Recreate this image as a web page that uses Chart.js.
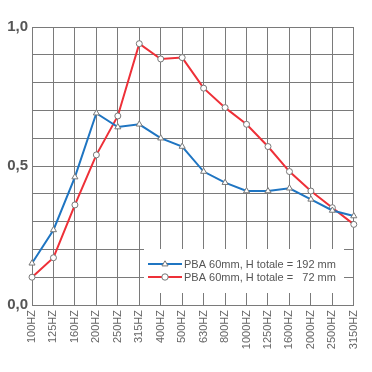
<!DOCTYPE html>
<html>
<head>
<meta charset="utf-8">
<script src="https://cdn.jsdelivr.net/npm/chart.js@4.4.1/dist/chart.umd.min.js"></script>
<style>
  html, body { margin: 0; padding: 0; background: #fff; }
  canvas { display: block; }
</style>
</head>
<body>
<canvas id="absChart" width="372" height="372"></canvas>
<script>
// Fréquences (axe X)
const frequences = ["100HZ", "125HZ", "160HZ", "200HZ", "250HZ", "315HZ", "400HZ", "500HZ",
  "630HZ", "800HZ", "1000HZ", "1250HZ", "1600HZ", "2000HZ", "2500HZ", "3150HZ"];

// Noms des séries
const nomSerie192 = "PBA 60mm, H totale = 192 mm";
const nomSerie72 = "PBA 60mm, H totale =   72 mm";

// Coefficients d'absorption
const abs192 = [0.15, 0.27, 0.46, 0.69, 0.64, 0.65, 0.60, 0.57, 0.48, 0.44, 0.41, 0.41, 0.42, 0.38, 0.34, 0.32];
const abs72 = [0.10, 0.17, 0.36, 0.54, 0.68, 0.94, 0.885, 0.89, 0.78, 0.71, 0.65, 0.57, 0.48, 0.41, 0.35, 0.29];

// Graduations affichées sur l'axe Y
const yTicks = [0, 0.5, 1.0];
const yTickTexts = ["0,0", "0,5", "1,0"];

const fontName = "'Liberation Sans', Arial, Helvetica, sans-serif";

function drawMarker(ctx, style, x, y, r) {
  ctx.beginPath();
  if (style === "triangle") {
    ctx.moveTo(x, y - r);
    ctx.lineTo(x + r * 0.95, y + r * 0.6);
    ctx.lineTo(x - r * 0.95, y + r * 0.6);
    ctx.closePath();
  } else {
    ctx.arc(x, y, r, 0, Math.PI * 2);
  }
  ctx.fill();
  ctx.stroke();
}

// Légende dans un cadre blanc, posée dans la zone du graphique
const legendBox = {
  id: "legendBox",
  afterDatasetsDraw(chart) {
    const ctx = chart.ctx;
    const area = chart.chartArea;
    const x0 = area.left + 112;
    const y0 = area.bottom - 56;
    ctx.save();
    ctx.fillStyle = "#fff";
    ctx.fillRect(x0, y0, 200, 44);
    chart.data.datasets.forEach((ds, i) => {
      const y = y0 + 15 + i * 13;
      ctx.strokeStyle = ds.borderColor;
      ctx.lineWidth = 2;
      ctx.beginPath();
      ctx.moveTo(x0 + 4, y);
      ctx.lineTo(x0 + 38, y);
      ctx.stroke();
      ctx.fillStyle = "#fff";
      ctx.strokeStyle = ds.pointBorderColor;
      ctx.lineWidth = 1;
      drawMarker(ctx, ds.pointStyle, x0 + 21, y, 3.2);
      ctx.fillStyle = "#555";
      ctx.font = "11px " + fontName;
      ctx.textBaseline = "middle";
      ctx.textAlign = "left";
      ctx.fillText(ds.label, x0 + 40, y + 0.5);
    });
    ctx.restore();
  }
};

new Chart(document.getElementById("absChart"), {
  type: "line",
  data: {
    labels: frequences,
    datasets: [{
      label: nomSerie192,
      data: abs192,
      borderColor: "#1f75c2",
      borderWidth: 2,
      pointStyle: "triangle",
      pointRadius: 3.5,
      pointBackgroundColor: "#fff",
      pointBorderColor: "#777",
      pointBorderWidth: 1,
      tension: 0
    }, {
      label: nomSerie72,
      data: abs72,
      borderColor: "#ee3038",
      borderWidth: 2,
      pointStyle: "circle",
      pointRadius: 3,
      pointBackgroundColor: "#fff",
      pointBorderColor: "#777",
      pointBorderWidth: 1,
      tension: 0
    }]
  },
  options: {
    responsive: false,
    animation: false,
    layout: { padding: { top: 27, right: 14, bottom: 0, left: 0 } },
    plugins: {
      legend: { display: false },
      tooltip: { enabled: false }
    },
    scales: {
      x: {
        offset: false,
        grid: { color: "#7a7a7a", lineWidth: 1, drawTicks: false },
        border: { color: "#7a7a7a" },
        ticks: {
          autoSkip: false,
          minRotation: 90,
          maxRotation: 90,
          padding: 5,
          color: "#666",
          font: { family: fontName, size: 11 }
        },
        afterFit(scale) { scale.height = 67; }
      },
      y: {
        min: 0,
        max: 1,
        grid: { color: "#7a7a7a", lineWidth: 1, drawTicks: false },
        border: { color: "#7a7a7a" },
        ticks: {
          stepSize: 0.1,
          padding: 4,
          color: "#555",
          font: { family: fontName, size: 15, weight: "bold" },
          callback(v) {
            const k = yTicks.findIndex(t => Math.abs(t - v) < 1e-6);
            return k >= 0 ? yTickTexts[k] : "";
          }
        },
        afterFit(scale) { scale.width = 32; }
      }
    }
  },
  plugins: [legendBox]
});
</script>
</body>
</html>
